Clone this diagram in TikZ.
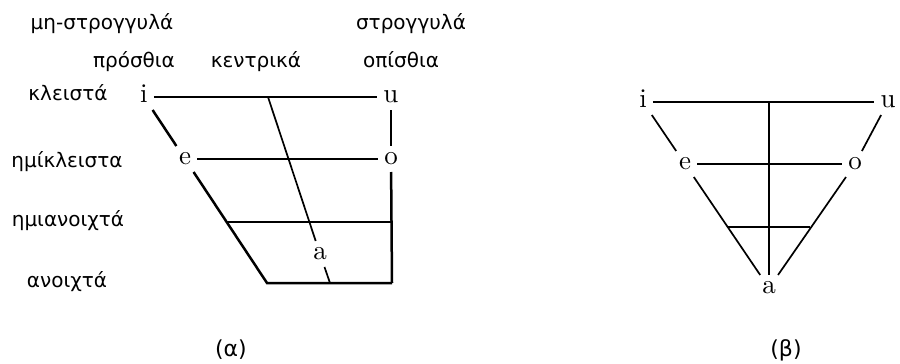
\documentclass[tikz,border=0pt]{standalone}
\usepackage{graphicx}
\usepackage{fontspec}
\newfontfamily\grfont{DejaVu Sans}
\newcommand{\vw}[1]{\scalebox{2.7}{\fontsize{10}{10}\selectfont #1}}
\begin{document}
\begin{tikzpicture}[x=1pt,y=-1pt,
  vowel/.style={text height=11.6pt, text depth=0pt, inner xsep=6pt, inner ysep=7pt},
  lab/.style={font=\grfont\fontsize{20}{20}\selectfont, anchor=base},
  captext/.style={font=\grfont\fontsize{22}{22}\selectfont},
  thk/.style={line width=2.5pt},
  thn/.style={line width=1.7pt}]
\useasboundingbox (0,0) rectangle (900,364);
% labels
\node[lab] (l1) at (102,29) {μη-στρογγυλά};
\node[lab] (l2) at (411,29) {στρογγυλά};
\node[lab] (l3) at (134,67) {πρόσθια};
\node[lab] (l4) at (256,67) {κεντρικά};
\node[lab] (l5) at (401,67) {οπίσθια};
\node[lab] (l6) at (68,100) {κλειστά};
\node[lab] (l7) at (67,167) {ημίκλειστα};
\node[lab] (l8) at (68,226) {ημιανοιχτά};
\node[lab] (l9) at (67,287) {ανοιχτά};
\node[captext] (ca) at (231,350) {(α)};
\node[captext] (cb) at (786,350) {(β)};
% left diagram
\node[vowel] (i) at (144,97) {\vw{i}};
\node[vowel] (u) at (391,97) {\vw{u}};
\node[vowel] (e) at (185,159) {\vw{e}};
\node[vowel] (o) at (391,159) {\vw{o}};
\node[vowel] (a) at (320,254) {\vw{a}};
\coordinate (bl) at (267,283);
\coordinate (br) at (392,283);
\coordinate (ct) at (268,97);
\coordinate (cb1) at (330,283);
\coordinate (ml) at (226.6,222);
\coordinate (mr) at (392,222);
\draw[thk] (i) -- (u);
\draw[thk] (e) -- (o);
\draw[thk] (i) -- (e);
\draw[thk] (e) -- (bl) -- (br);
\draw[thk] (u) -- (o);
\draw[thk] (o) -- (br);
\draw[thn] (ml) -- (mr);
\draw[thn] (ct) -- (a);
\draw[thn] (a) -- (cb1);
% right diagram
\node[vowel] (i2) at (643,102) {\vw{i}};
\node[vowel] (u2) at (888,102) {\vw{u}};
\node[vowel] (e2) at (685,164) {\vw{e}};
\node[vowel] (o2) at (855,164) {\vw{o}};
\node[vowel] (a2) at (769,288) {\vw{a}};
\coordinate (ct2) at (769,102);
\coordinate (ml2) at (728,227);
\coordinate (mr2) at (810,227);
\draw[thn] (i2) -- (u2);
\draw[thn] (e2) -- (o2);
\draw[thn] (i2) -- (e2);
\draw[thn] (e2) -- (a2);
\draw[thn] (u2) -- (o2);
\draw[thn] (o2) -- (a2);
\draw[thn] (ct2) -- (a2);
\draw[thn] (ml2) -- (mr2);
\end{tikzpicture}
\end{document}
